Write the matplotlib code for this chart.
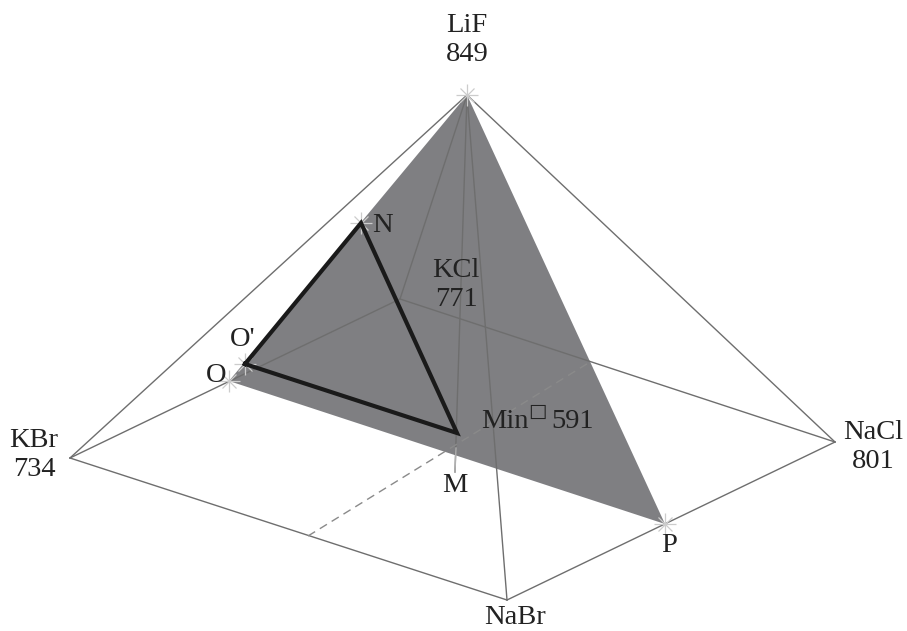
import matplotlib.pyplot as plt
from matplotlib.patches import Polygon

plt.rcParams['font.family'] = ['Liberation Serif', 'DejaVu Sans']

# projected corners of the LiF-KBr-KCl-NaCl-NaBr pyramid (drawing units)
corner_names = ['LiF', 'KBr', 'KCl', 'NaCl', 'NaBr']
corner_x = [467, 70, 400, 835, 507]
corner_y = [95, 458, 299, 442, 600]
melt_temp = [849, 734, 771, 801, None]

# points of the section plane and the triangle inside it
sect_names = ['O', "O'", 'N', 'M', 'P', 'Mb']
sect_x = [229, 245, 361, 457, 665, 455]
sect_y = [381, 364, 223, 433, 524, 472]

# dashed trace through the base
dash_x = [308, 590]
dash_y = [536, 362]

min_temp = 591

C = dict(zip(corner_names, zip(corner_x, corner_y)))
S = dict(zip(sect_names, zip(sect_x, sect_y)))

fig = plt.figure(figsize=(9.07, 6.31), dpi=100)
ax = fig.add_axes([0, 0, 1, 1])
ax.set_xlim(0, 907)
ax.set_ylim(631, 0)
ax.axis('off')

# shaded plane LiF-O-P
shade = Polygon([C['LiF'], S['O'], S['P']], closed=True,
                facecolor='#7f7f82', edgecolor='none', zorder=1)
ax.add_patch(shade)

edge_col = '#6e6e6e'
edges = [('LiF', 'KBr'), ('LiF', 'NaCl'), ('LiF', 'NaBr'), ('LiF', 'KCl'),
         ('KBr', 'NaBr'), ('NaBr', 'NaCl'), ('KBr', 'KCl'), ('KCl', 'NaCl')]
for a, b in edges:
    ax.plot([C[a][0], C[b][0]], [C[a][1], C[b][1]], color=edge_col, lw=1.0, zorder=2)

# line from apex down to M
ax.plot([C['LiF'][0], S['Mb'][0]], [C['LiF'][1], S['Mb'][1]],
        color=edge_col, lw=1.0, zorder=2)

ax.plot(dash_x, dash_y, color='#8a8a8a', lw=1.0, ls=(0, (6, 4)), zorder=2)

# triangle O'-N-M
tri = ["O'", 'N', 'M', "O'"]
ax.plot([S[p][0] for p in tri], [S[p][1] for p in tri],
        color='#1a1a1a', lw=3.0, solid_joinstyle='miter', zorder=4)

# small crosses at the marked points
mk = [C['LiF'], S['N'], S["O'"], S['O'], S['P']]
ax.plot([p[0] for p in mk], [p[1] for p in mk], ls='none', marker='+',
        ms=16, mew=0.9, color='#cccccc', zorder=3)
ax.plot([p[0] for p in mk], [p[1] for p in mk], ls='none', marker='x',
        ms=10, mew=0.9, color='#cccccc', zorder=3)
ax.plot([S['M'][0] - 1, S['Mb'][0]], [S['M'][1] + 15, S['Mb'][1]],
        color='#b0b0b0', lw=1.0, zorder=3)

fs = 20.5
tc = '#222222'
ax.text(467, 40, f"LiF\n{melt_temp[0]}", ha='center', va='center', fontsize=fs,
        color=tc, linespacing=1.2)
ax.text(34, 455, f"KBr\n{melt_temp[1]}", ha='center', va='center', fontsize=fs,
        color=tc, linespacing=1.2)
ax.text(456, 285, f"KCl\n{melt_temp[2]}", ha='center', va='center', fontsize=fs,
        color=tc, linespacing=1.2)
ax.text(873, 447, f"NaCl\n{melt_temp[3]}", ha='center', va='center', fontsize=fs,
        color=tc, linespacing=1.2)
ax.text(515, 630, "NaBr", ha='center', va='bottom', fontsize=fs, color=tc)

ax.text(382, 226, "N", ha='center', va='center', fontsize=fs, color=tc)
ax.text(243, 339, "O'", ha='center', va='center', fontsize=fs, color=tc)
ax.text(216, 375, "O", ha='center', va='center', fontsize=fs, color=tc)
ax.text(455, 485, "M", ha='center', va='center', fontsize=fs, color=tc)
ax.text(669, 546, "P", ha='center', va='center', fontsize=fs, color=tc)

ax.text(481, 428, "Min", ha='left', va='baseline', fontsize=fs, color=tc)
ax.text(537, 417, "\u25a1", ha='center', va='baseline', fontsize=14,
        color=tc, family=['DejaVu Sans'])
ax.text(551, 428, f"{min_temp}", ha='left', va='baseline', fontsize=fs, color=tc)

fig.savefig('out.png', dpi=100)
